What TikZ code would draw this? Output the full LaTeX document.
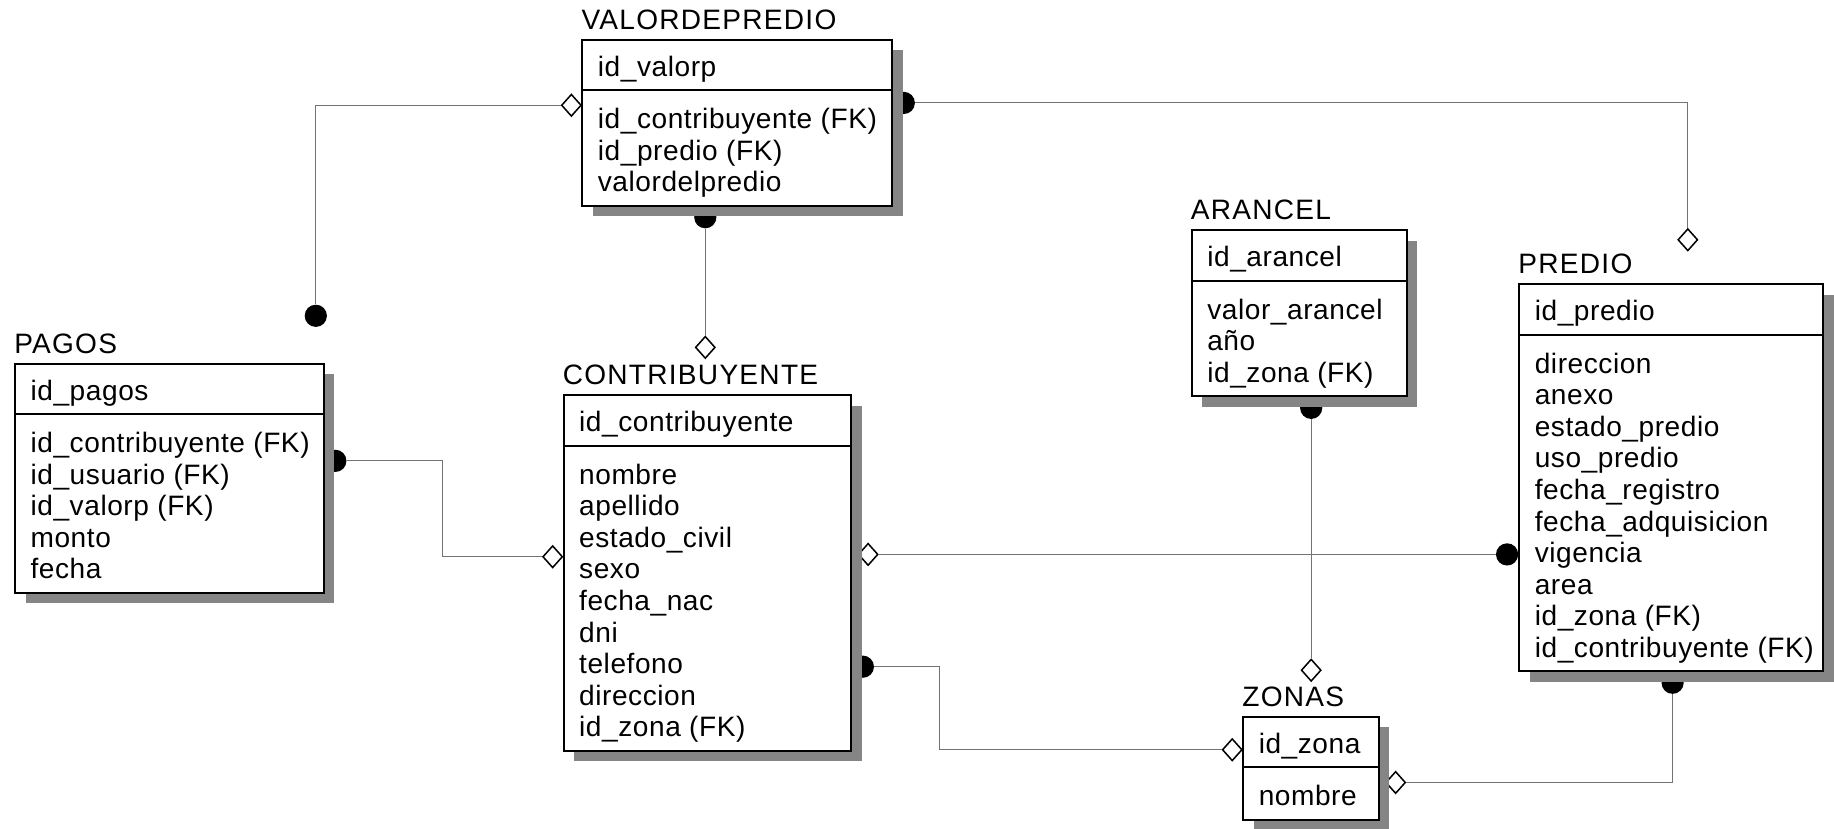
\documentclass[tikz,border=0pt]{standalone}
\usepackage{fontspec}
\setmainfont{Liberation Sans}[LetterSpace=2.0]
\newfontfamily\headfont{Liberation Sans}[LetterSpace=4.5]
\usetikzlibrary{shapes.geometric,shadows}

\pgfdeclarelayer{links}
\pgfsetlayers{links,main}

\newcommand\erfont{\fontsize{24}{27}\selectfont}

\tikzset{
  entity/.style={draw=black, line width=1.7pt, fill=white, inner sep=0pt,
    anchor=north west,
    drop shadow={shadow xshift=9pt, shadow yshift=-9pt, fill=black!48, opacity=1}},
  etitle/.style={inner sep=0pt, anchor=base west, font=\headfont\erfont},
  field/.style={inner sep=0pt, anchor=base west, font=\erfont},
  rel/.style={draw=black!55, line width=0.9pt},
  parent/.style={shape=diamond, draw=black, line width=1.3pt, fill=white,
    inner sep=0pt, minimum width=17pt, minimum height=19pt},
  dot/.style={circle, fill=black, inner sep=0pt, minimum size=19pt},
}

% entity: name, x, y, width, number of attributes, title, key, attributes
\newcommand\erentity[8]{%
  \node[entity, minimum width=#4pt, minimum height={88+27*(#5-1)}] (#1) at (#2,-#3) {};
  \node[etitle] (#1-t) at ([yshift=8pt]#1.north west) {#6};
  \draw[line width=1.7pt] ([yshift=-44pt]#1.north west) -- ([yshift=-44pt]#1.north east);
  \node[field] (#1-k) at ([xshift=14pt,yshift=-32pt]#1.north west) {#7};
  \foreach \a [count=\i] in {#8}
    \node[field] (#1-\i) at ([xshift=14pt,yshift={-77pt-27pt*(\i-1)}]#1.north west) {\a};
}

\begin{document}
\begin{tikzpicture}[x=1pt,y=1pt]
\useasboundingbox (0,0) rectangle (1568,-708);

\erentity{val}{497}{33}{265}{3}{VALORDEPREDIO}{id\_valorp}
  {id\_contribuyente (FK), id\_predio (FK), valordelpredio}
\erentity{pag}{12}{310}{264}{5}{PAGOS}{id\_pagos}
  {id\_contribuyente (FK), id\_usuario (FK), id\_valorp (FK), monto, fecha}
\erentity{con}{481}{337}{246}{9}{CONTRIBUYENTE}{id\_contribuyente}
  {nombre, apellido, estado\_civil, sexo, fecha\_nac, dni, telefono, direccion, id\_zona (FK)}
\erentity{ara}{1018}{196}{184}{3}{ARANCEL}{id\_arancel}
  {valor\_arancel, año, id\_zona (FK)}
\erentity{pre}{1298}{242}{260}{10}{PREDIO}{id\_predio}
  {direccion, anexo, estado\_predio, uso\_predio, fecha\_registro, fecha\_adquisicion, vigencia, area, id\_zona (FK), id\_contribuyente (FK)}
\erentity{zon}{1062}{612}{116}{1}{ZONAS}{id\_zona}
  {nombre}

% relationships sit beneath the tables, so the shadows cover their inner halves
\begin{pgfonlayer}{links}
\node[parent] (d1) at ([xshift=-8.5pt,yshift=-57pt]val.north west) {};
\node[dot] (p1) at (270,-270) {};

\node[dot] (c2) at ([xshift=9pt,yshift=-55pt]val.north east) {};
\node[parent] (d2) at (1443,-205) {};

\node[dot] (c3) at ([xshift=106pt,yshift=-9pt]val.south west) {};
\coordinate (h3) at (0,-297);
\node[parent] (d3) at (c3 |- h3) {};

\node[dot] (c4) at ([xshift=9pt,yshift=-84pt]pag.north east) {};
\coordinate (b4) at (378,0);
\node[parent] (d4) at ([xshift=-8.5pt,yshift=-139pt]con.north west) {};

\node[parent] (d5) at ([xshift=13.5pt,yshift=-137pt]con.north east) {};
\node[dot] (c5) at ([xshift=-9.5pt,yshift=-232pt]pre.north west) {};

\node[dot] (c6) at ([xshift=9pt,yshift=-233pt]con.north east) {};
\coordinate (b6) at (803,0);
\node[parent] (d6) at ([xshift=-8.5pt,yshift=-29pt]zon.north west) {};

\node[dot] (c7) at ([xshift=103pt,yshift=-9pt]ara.south west) {};
\coordinate (h7) at (0,-573);
\node[parent] (d7) at (c7 |- h7) {};

\node[dot] (c8) at ([xshift=132pt,yshift=-9pt]pre.south west) {};
\node[parent] (d8) at ([xshift=13.5pt,yshift=-57pt]zon.north east) {};

\draw[rel] (d1.west) -| (p1.north);
\draw[rel] (c2.east) -| (d2.north);
\draw[rel] (c3.south) -- (d3.north);
\draw[rel] (c4.east) -- (c4.east -| b4) |- (d4.west);
\draw[rel] (d5.east) -- (c5.west);
\draw[rel] (c6.east) -- (c6.east -| b6) |- (d6.west);
\draw[rel] (c7.south) -- (d7.north);
\draw[rel] (c8.south) |- (d8.east);
\end{pgfonlayer}
\end{tikzpicture}
\end{document}
